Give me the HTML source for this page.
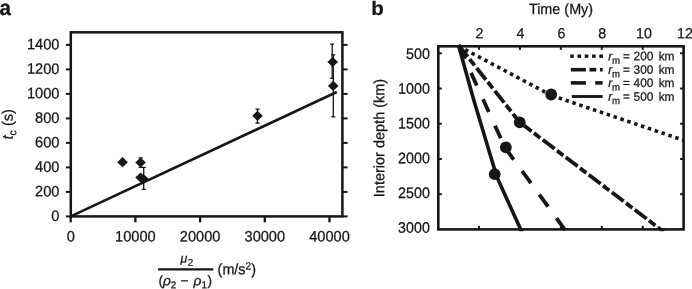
<!DOCTYPE html>
<html><head><meta charset="utf-8"><title>Figure</title>
<style>
html,body{margin:0;padding:0;background:#fff;}
body{width:692px;height:289px;overflow:hidden;}
svg{display:block;will-change:transform;}
.t{font-family:"Liberation Sans", sans-serif;fill:#161616;stroke:#161616;stroke-width:0.25px;}
</style></head><body>
<svg width="692" height="289" viewBox="0 0 692 289">
<rect x="0" y="0" width="692" height="289" fill="#fff"/>
<rect x="70.8" y="32.3" width="271.59999999999997" height="184.10000000000002" fill="none" stroke="#161616" stroke-width="2.5"/>
<line x1="65.89999999999999" y1="216.40" x2="70.8" y2="216.40" stroke="#161616" stroke-width="2.0"/>
<line x1="342.4" y1="216.40" x2="347.59999999999997" y2="216.40" stroke="#161616" stroke-width="2.0"/>
<text transform="translate(59.40,220.90) rotate(0.06) scale(1,1.04)" text-anchor="end" font-size="14.6" class="t" >0</text>
<line x1="65.89999999999999" y1="191.90" x2="70.8" y2="191.90" stroke="#161616" stroke-width="2.0"/>
<line x1="342.4" y1="191.90" x2="347.59999999999997" y2="191.90" stroke="#161616" stroke-width="2.0"/>
<text transform="translate(59.40,196.40) rotate(0.06) scale(1,1.04)" text-anchor="end" font-size="14.6" class="t" >200</text>
<line x1="65.89999999999999" y1="167.40" x2="70.8" y2="167.40" stroke="#161616" stroke-width="2.0"/>
<line x1="342.4" y1="167.40" x2="347.59999999999997" y2="167.40" stroke="#161616" stroke-width="2.0"/>
<text transform="translate(59.40,171.90) rotate(0.06) scale(1,1.04)" text-anchor="end" font-size="14.6" class="t" >400</text>
<line x1="65.89999999999999" y1="142.90" x2="70.8" y2="142.90" stroke="#161616" stroke-width="2.0"/>
<line x1="342.4" y1="142.90" x2="347.59999999999997" y2="142.90" stroke="#161616" stroke-width="2.0"/>
<text transform="translate(59.40,147.40) rotate(0.06) scale(1,1.04)" text-anchor="end" font-size="14.6" class="t" >600</text>
<line x1="65.89999999999999" y1="118.40" x2="70.8" y2="118.40" stroke="#161616" stroke-width="2.0"/>
<line x1="342.4" y1="118.40" x2="347.59999999999997" y2="118.40" stroke="#161616" stroke-width="2.0"/>
<text transform="translate(59.40,122.90) rotate(0.06) scale(1,1.04)" text-anchor="end" font-size="14.6" class="t" >800</text>
<line x1="65.89999999999999" y1="93.90" x2="70.8" y2="93.90" stroke="#161616" stroke-width="2.0"/>
<line x1="342.4" y1="93.90" x2="347.59999999999997" y2="93.90" stroke="#161616" stroke-width="2.0"/>
<text transform="translate(59.40,98.40) rotate(0.06) scale(1,1.04)" text-anchor="end" font-size="14.6" class="t" >1000</text>
<line x1="65.89999999999999" y1="69.40" x2="70.8" y2="69.40" stroke="#161616" stroke-width="2.0"/>
<line x1="342.4" y1="69.40" x2="347.59999999999997" y2="69.40" stroke="#161616" stroke-width="2.0"/>
<text transform="translate(59.40,73.90) rotate(0.06) scale(1,1.04)" text-anchor="end" font-size="14.6" class="t" >1200</text>
<line x1="65.89999999999999" y1="44.90" x2="70.8" y2="44.90" stroke="#161616" stroke-width="2.0"/>
<line x1="342.4" y1="44.90" x2="347.59999999999997" y2="44.90" stroke="#161616" stroke-width="2.0"/>
<text transform="translate(59.40,49.40) rotate(0.06) scale(1,1.04)" text-anchor="end" font-size="14.6" class="t" >1400</text>
<line x1="70.70" y1="216.4" x2="70.70" y2="222.3" stroke="#161616" stroke-width="2.3"/>
<text transform="translate(70.70,241.50) rotate(0.06) scale(1,1.04)" text-anchor="middle" font-size="14.6" class="t" >0</text>
<line x1="135.40" y1="216.4" x2="135.40" y2="222.3" stroke="#161616" stroke-width="2.3"/>
<text transform="translate(135.40,241.50) rotate(0.06) scale(1,1.04)" text-anchor="middle" font-size="14.6" class="t" >10000</text>
<line x1="200.10" y1="216.4" x2="200.10" y2="222.3" stroke="#161616" stroke-width="2.3"/>
<text transform="translate(200.10,241.50) rotate(0.06) scale(1,1.04)" text-anchor="middle" font-size="14.6" class="t" >20000</text>
<line x1="264.80" y1="216.4" x2="264.80" y2="222.3" stroke="#161616" stroke-width="2.3"/>
<text transform="translate(264.80,241.50) rotate(0.06) scale(1,1.04)" text-anchor="middle" font-size="14.6" class="t" >30000</text>
<line x1="329.50" y1="216.4" x2="329.50" y2="222.3" stroke="#161616" stroke-width="2.3"/>
<text transform="translate(329.50,241.50) rotate(0.06) scale(1,1.04)" text-anchor="middle" font-size="14.6" class="t" >40000</text>
<line x1="70.7" y1="216.4" x2="336.8" y2="92" stroke="#161616" stroke-width="2.6"/>
<path d="M332.2 44.2V78.3M330.2 44.2h4.0M330.2 78.3h4.0" stroke="#161616" stroke-width="1.3" fill="none"/>
<path d="M333.3 54.8V116.9M331.3 54.8h4.0M331.3 116.9h4.0" stroke="#161616" stroke-width="1.3" fill="none"/>
<path d="M257.5 109.2V123.0M255.5 109.2h4.0M255.5 123.0h4.0" stroke="#161616" stroke-width="1.3" fill="none"/>
<path d="M140.6 157.9V167.4M138.6 157.9h4.0M138.6 167.4h4.0" stroke="#161616" stroke-width="1.3" fill="none"/>
<path d="M143.7 167.4V189.4M141.7 167.4h4.0M141.7 189.4h4.0" stroke="#161616" stroke-width="1.3" fill="none"/>
<path d="M327.4 62.0L332.7 56.9L338.0 62.0L332.7 67.1Z" fill="#161616"/>
<path d="M327.9 85.9L333.2 80.80000000000001L338.5 85.9L333.2 91.0Z" fill="#161616"/>
<path d="M252.2 115.8L257.5 110.7L262.8 115.8L257.5 120.89999999999999Z" fill="#161616"/>
<path d="M117.3 162.2L122.6 157.1L127.89999999999999 162.2L122.6 167.29999999999998Z" fill="#161616"/>
<path d="M135.29999999999998 162.5L140.6 157.4L145.9 162.5L140.6 167.6Z" fill="#161616"/>
<path d="M135.29999999999998 177.5L140.6 172.4L145.9 177.5L140.6 182.6Z" fill="#161616"/>
<path d="M138.2 179.0L143.5 173.9L148.8 179.0L143.5 184.1Z" fill="#161616"/>
<text transform="translate(-0.50,15.10) rotate(0.06) scale(1,1.04)" text-anchor="start" font-size="20.5" class="t" font-weight="bold">a</text>
<text transform="translate(12.70,139.50) rotate(-89.94) scale(1,1.03)" text-anchor="start" font-size="14.7" class="t" ><tspan font-style="italic">t</tspan><tspan font-size="10.4" dy="3.4">c</tspan><tspan dy="-3.4"> (s)</tspan></text>
<line x1="158.1" y1="269.3" x2="213.4" y2="269.3" stroke="#161616" stroke-width="2.2"/>
<text transform="translate(180.4,262.4) rotate(0.06)" font-size="12.4" class="t"><tspan font-style="italic">μ</tspan><tspan font-size="9.8" dy="3.3" dx="0.5">2</tspan></text>
<text transform="translate(158.4,285.3) rotate(0.06)" font-size="13.7" class="t">(<tspan font-style="italic">ρ</tspan><tspan font-size="9.9" dy="3">2</tspan><tspan dy="-3" dx="0.3"> − </tspan><tspan font-style="italic" dx="1.2">ρ</tspan><tspan font-size="9.9" dy="3" dx="0.2">1</tspan><tspan dy="-3" dx="0.6">)</tspan></text>
<text transform="translate(217.60,274.20) rotate(0.06) scale(1,1.05)" text-anchor="start" font-size="14.4" class="t" >(m/s<tspan font-size="10" dy="-4.6">2</tspan><tspan dy="4.6">)</tspan></text>
<line x1="478.95" y1="46.3" x2="478.95" y2="49.8" stroke="#161616" stroke-width="2.0"/>
<line x1="478.95" y1="229.4" x2="478.95" y2="225.9" stroke="#161616" stroke-width="2.0"/>
<text transform="translate(479.45,38.30) rotate(0.06) scale(1,1.03)" text-anchor="middle" font-size="14.2" class="t" >2</text>
<line x1="519.90" y1="46.3" x2="519.90" y2="49.8" stroke="#161616" stroke-width="2.0"/>
<line x1="519.90" y1="229.4" x2="519.90" y2="225.9" stroke="#161616" stroke-width="2.0"/>
<text transform="translate(520.40,38.30) rotate(0.06) scale(1,1.03)" text-anchor="middle" font-size="14.2" class="t" >4</text>
<line x1="560.85" y1="46.3" x2="560.85" y2="49.8" stroke="#161616" stroke-width="2.0"/>
<line x1="560.85" y1="229.4" x2="560.85" y2="225.9" stroke="#161616" stroke-width="2.0"/>
<text transform="translate(561.35,38.30) rotate(0.06) scale(1,1.03)" text-anchor="middle" font-size="14.2" class="t" >6</text>
<line x1="601.80" y1="46.3" x2="601.80" y2="49.8" stroke="#161616" stroke-width="2.0"/>
<line x1="601.80" y1="229.4" x2="601.80" y2="225.9" stroke="#161616" stroke-width="2.0"/>
<text transform="translate(602.30,38.30) rotate(0.06) scale(1,1.03)" text-anchor="middle" font-size="14.2" class="t" >8</text>
<line x1="642.75" y1="46.3" x2="642.75" y2="49.8" stroke="#161616" stroke-width="2.0"/>
<line x1="642.75" y1="229.4" x2="642.75" y2="225.9" stroke="#161616" stroke-width="2.0"/>
<text transform="translate(643.95,38.30) rotate(0.06) scale(1,1.03)" text-anchor="middle" font-size="14.2" class="t" >10</text>
<text transform="translate(684.90,38.30) rotate(0.06) scale(1,1.03)" text-anchor="middle" font-size="14.2" class="t" >12</text>
<line x1="438.3" y1="53.30" x2="441.8" y2="53.30" stroke="#161616" stroke-width="2.0"/>
<line x1="683.6" y1="53.30" x2="680.1" y2="53.30" stroke="#161616" stroke-width="2.0"/>
<text transform="translate(429.90,59.00) rotate(0.06) scale(1,1.07)" text-anchor="end" font-size="14.3" class="t" >500</text>
<line x1="438.3" y1="88.52" x2="441.8" y2="88.52" stroke="#161616" stroke-width="2.0"/>
<line x1="683.6" y1="88.52" x2="680.1" y2="88.52" stroke="#161616" stroke-width="2.0"/>
<text transform="translate(429.90,93.76) rotate(0.06) scale(1,1.07)" text-anchor="end" font-size="14.3" class="t" >1000</text>
<line x1="438.3" y1="123.74" x2="441.8" y2="123.74" stroke="#161616" stroke-width="2.0"/>
<line x1="683.6" y1="123.74" x2="680.1" y2="123.74" stroke="#161616" stroke-width="2.0"/>
<text transform="translate(429.90,128.52) rotate(0.06) scale(1,1.07)" text-anchor="end" font-size="14.3" class="t" >1500</text>
<line x1="438.3" y1="158.96" x2="441.8" y2="158.96" stroke="#161616" stroke-width="2.0"/>
<line x1="683.6" y1="158.96" x2="680.1" y2="158.96" stroke="#161616" stroke-width="2.0"/>
<text transform="translate(429.90,163.28) rotate(0.06) scale(1,1.07)" text-anchor="end" font-size="14.3" class="t" >2000</text>
<line x1="438.3" y1="194.18" x2="441.8" y2="194.18" stroke="#161616" stroke-width="2.0"/>
<line x1="683.6" y1="194.18" x2="680.1" y2="194.18" stroke="#161616" stroke-width="2.0"/>
<text transform="translate(429.90,198.04) rotate(0.06) scale(1,1.07)" text-anchor="end" font-size="14.3" class="t" >2500</text>
<text transform="translate(429.90,232.80) rotate(0.06) scale(1,1.07)" text-anchor="end" font-size="14.3" class="t" >3000</text>
<text transform="translate(561.00,14.00) rotate(0.06) scale(1,1.03)" text-anchor="middle" font-size="14.4" class="t" >Time (My)</text>
<text transform="translate(384.20,138.00) rotate(-89.94) scale(1,1.03)" text-anchor="middle" font-size="14.5" class="t" >Interior depth (km)</text>
<text transform="translate(371.30,15.10) rotate(0.06) scale(1,0.96)" text-anchor="start" font-size="20.5" class="t" font-weight="bold">b</text>
<clipPath id="cb"><rect x="438.3" y="44.099999999999994" width="245.3" height="187.20000000000002"/></clipPath>
<g clip-path="url(#cb)" fill="none" stroke="#161616">
<path d="M458.4 46.0L551.2 95.3" stroke-width="3.6" stroke-dasharray="3.5 3.76" stroke-dashoffset="-0.4"/>
<path d="M551.2 95.3L686.0 141.1" stroke-width="3.6" stroke-dasharray="3.5 3.74" stroke-dashoffset="-0.7"/>
<path d="M458.4 45.0L519.75 122.3" stroke-width="3.8" stroke-dasharray="15 3 8 3.3"/>
<path d="M519.75 122.3L663.6 231.7" stroke-width="3.8" stroke-dasharray="14.9 3 7.9 3.1"/>
<path d="M458.4 45.0L504.9 147.4" stroke-width="3.8" stroke-dasharray="13.9 15.1" stroke-dashoffset="-1.6"/>
<path d="M504.9 147.4L566.5 232.0" stroke-width="3.8" stroke-dasharray="15 14.2"/>
<path d="M458.4 45L473.76 100L492.97 164L496.9 177.1L522 232.3" stroke-width="3.6" stroke-linejoin="round"/>
</g>
<circle cx="551.2" cy="94.5" r="5.9" fill="#161616"/>
<circle cx="519.75" cy="122.3" r="5.9" fill="#161616"/>
<circle cx="505.85" cy="147.3" r="5.9" fill="#161616"/>
<circle cx="494.7" cy="174.2" r="5.9" fill="#161616"/>
<rect x="438.3" y="46.3" width="245.3" height="183.10000000000002" fill="none" stroke="#161616" stroke-width="2.6"/>
<line x1="570.2" y1="56.2" x2="573.8000000000001" y2="56.2" stroke="#161616" stroke-width="3.4"/>
<line x1="577.48" y1="56.2" x2="581.08" y2="56.2" stroke="#161616" stroke-width="3.4"/>
<line x1="584.76" y1="56.2" x2="588.36" y2="56.2" stroke="#161616" stroke-width="3.4"/>
<line x1="592.0400000000001" y1="56.2" x2="595.6400000000001" y2="56.2" stroke="#161616" stroke-width="3.4"/>
<line x1="599.32" y1="56.2" x2="602.9200000000001" y2="56.2" stroke="#161616" stroke-width="3.4"/>
<line x1="570.8" y1="69.7" x2="585.9" y2="69.7" stroke="#161616" stroke-width="3.6"/>
<line x1="589.5" y1="69.7" x2="596.3" y2="69.7" stroke="#161616" stroke-width="3.6"/>
<line x1="599.9" y1="69.7" x2="602.7" y2="69.7" stroke="#161616" stroke-width="3.6"/>
<line x1="570.8" y1="82.9" x2="585.9" y2="82.9" stroke="#161616" stroke-width="3.6"/>
<line x1="595.2" y1="82.9" x2="602.6" y2="82.9" stroke="#161616" stroke-width="3.6"/>
<line x1="571.8" y1="96.5" x2="602.6" y2="96.5" stroke="#161616" stroke-width="2.9"/>
<text transform="translate(608.30,60.30) rotate(0.06) scale(1,1.03)" text-anchor="start" font-size="11.9" class="t" ><tspan font-style="italic">r</tspan><tspan font-size="9.6" dy="3.3" dx="-0.2">m</tspan><tspan dy="-3.3" dx="-0.4"> = </tspan><tspan dx="0.4">200</tspan><tspan dx="5.2">km</tspan></text>
<text transform="translate(608.30,73.80) rotate(0.06) scale(1,1.03)" text-anchor="start" font-size="11.9" class="t" ><tspan font-style="italic">r</tspan><tspan font-size="9.6" dy="3.3" dx="-0.2">m</tspan><tspan dy="-3.3" dx="-0.4"> = </tspan><tspan dx="0.4">300</tspan><tspan dx="5.2">km</tspan></text>
<text transform="translate(608.30,87.00) rotate(0.06) scale(1,1.03)" text-anchor="start" font-size="11.9" class="t" ><tspan font-style="italic">r</tspan><tspan font-size="9.6" dy="3.3" dx="-0.2">m</tspan><tspan dy="-3.3" dx="-0.4"> = </tspan><tspan dx="0.4">400</tspan><tspan dx="5.2">km</tspan></text>
<text transform="translate(608.30,100.60) rotate(0.06) scale(1,1.03)" text-anchor="start" font-size="11.9" class="t" ><tspan font-style="italic">r</tspan><tspan font-size="9.6" dy="3.3" dx="-0.2">m</tspan><tspan dy="-3.3" dx="-0.4"> = </tspan><tspan dx="0.4">500</tspan><tspan dx="5.2">km</tspan></text>
</svg>
</body></html>
